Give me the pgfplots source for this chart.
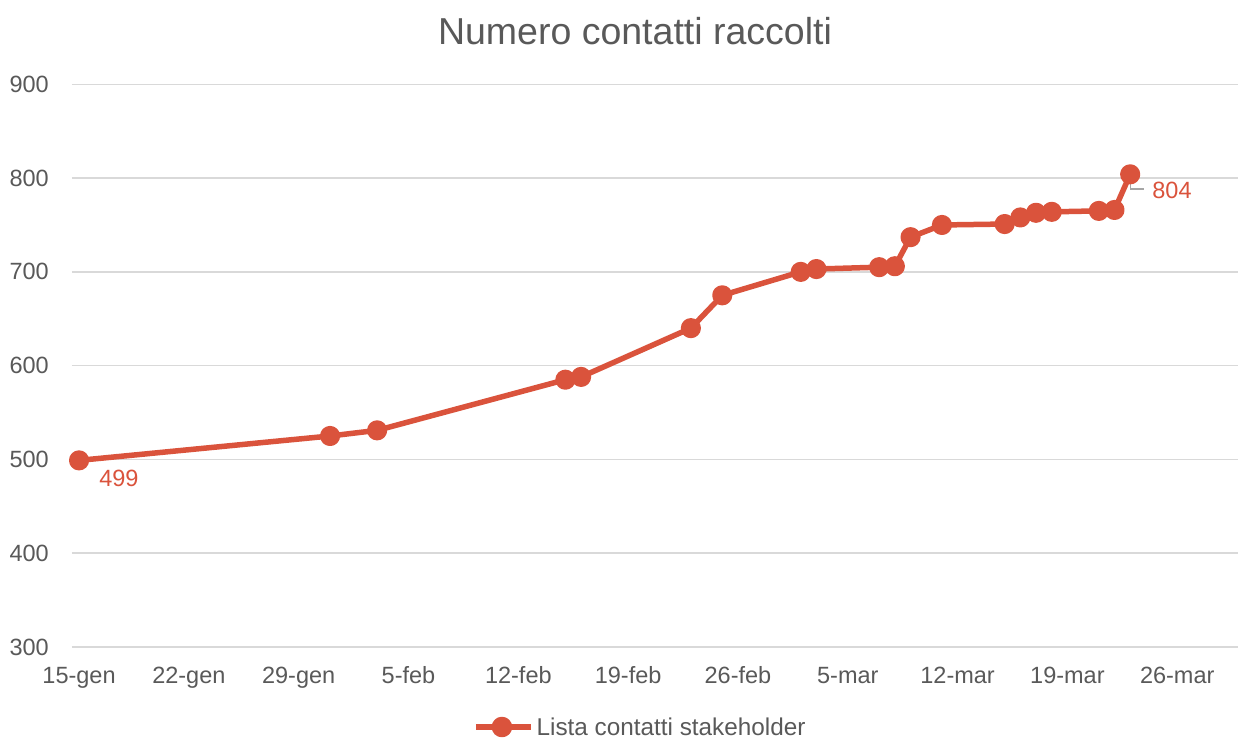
\documentclass[border=0pt]{standalone}
\usepackage{fontspec}
\setmainfont{Liberation Sans}
\usepackage{pgfplots}
\usepackage{pgfplotstable}
\pgfplotsset{compat=1.18}
\definecolor{serie}{HTML}{DA533C}
\definecolor{txt}{HTML}{595959}
\definecolor{grd}{HTML}{D9D9D9}
\definecolor{lead}{HTML}{A6A6A6}
\pgfplotstableread{
day val
0 499
16 525
19 531
31 585
32 588
39 640
41 675
46 700
47 703
51 705
52 706
53 737
55 750
59 751
60 758
61 763
62 764
65 765
66 766
67 804
}\datatab
\newcommand{\lblfont}{\fontsize{23.5bp}{27bp}\selectfont}
\begin{document}
\begin{tikzpicture}
\path[use as bounding box] (-72bp,-91bp) rectangle (1167bp,647bp);
\begin{axis}[
 at={(0,0)}, anchor=south west,
 scale only axis, width=1166bp, height=562.7bp,
 xmin=-0.45, xmax=73.87, ymin=300, ymax=900,
 xtick={0,7,...,70},
 xticklabels={15-gen,22-gen,29-gen,5-feb,12-feb,19-feb,26-feb,5-mar,12-mar,19-mar,26-mar},
 ytick={300,400,...,900},
 ymajorgrids, grid style={grd, line width=1.5bp},
 axis line style={draw=none},
 major tick length=0pt,
 tick label style={font=\lblfont, text=txt, inner sep=0pt},
 /pgf/number format/assume math mode=true,
 yticklabel style={anchor=east, xshift=-23bp},
 xticklabel style={anchor=base, yshift=-36bp},
 clip=false,
 legend style={at={(0.3439,-0.1422)}, anchor=west, draw=none, fill=none,
   inner sep=0pt, font=\fontsize{24.3bp}{28bp}\selectfont, text=txt, nodes={inner sep=0pt},
   /tikz/column sep=3bp},
 legend image code/.code={
   \draw[serie, line width=5.5bp] (0bp,0bp) -- (55bp,0bp);
   \fill[serie] (26bp,0bp) circle (7.5bp);
 },
]
\addplot[serie, line width=5.5bp, line join=round, mark=*, mark size=7.3bp,
  mark options={draw=none, fill=serie}] table[x=day, y=val] {\datatab};
\addlegendentry{Lista contatti stakeholder}
\node[anchor=west, inner sep=0pt, font=\lblfont, text=serie, xshift=20bp, yshift=-18bp] at (axis cs:0,499) {499};
\draw[lead, line width=1.4bp] (axis cs:67,804) ++(0.5bp,-2bp) -- ++(0bp,-12.7bp) -- ++(13.5bp,0bp);
\node[anchor=west, inner sep=0pt, font=\lblfont, text=serie, xshift=22bp, yshift=-16bp] at (axis cs:67,804) {804};
\end{axis}
\node[anchor=base, inner sep=0pt, font=\fontsize{37.5bp}{42bp}\selectfont, text=txt] at (563bp,602bp) {Numero contatti raccolti};
\end{tikzpicture}
\end{document}
